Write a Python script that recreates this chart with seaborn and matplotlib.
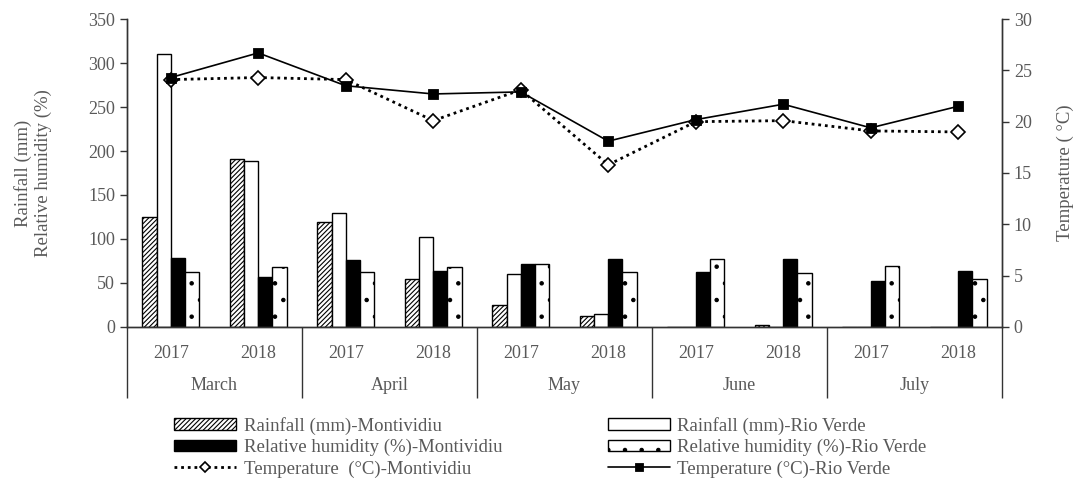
import numpy as np
import pandas as pd
import seaborn as sns
import matplotlib.pyplot as plt
from matplotlib import rcParams
import matplotlib.transforms as mtransforms

months = ['March', 'April', 'May', 'June', 'July']
years = ['2017', '2018']

rain_mont = [125, 191, 119, 55, 25, 13, 0, 2, 0, 0]
rain_rv = [310, 189, 129, 102, 60, 15, 0, 0, 0, 0]
rh_mont = [78, 57, 76, 64, 72, 77, 62, 77, 52, 64]
rh_rv = [62, 68, 62, 68, 72, 62, 77, 61, 69, 54]
temp_mont = [24.1, 24.3, 24.1, 20.1, 23.1, 15.8, 20.0, 20.1, 19.1, 19.0]
temp_rv = [24.3, 26.7, 23.5, 22.7, 22.9, 18.1, 20.2, 21.7, 19.4, 21.5]

bar_names = ['Rainfall (mm)-Montividiu', 'Rainfall (mm)-Rio Verde',
             'Relative humidity (%)-Montividiu', 'Relative humidity (%)-Rio Verde']
temp_names = ['Temperature  (°C)-Montividiu', 'Temperature (°C)-Rio Verde']

groups = [m + ' ' + y for m in months for y in years]
group_years = [y for m in months for y in years]

bars = pd.DataFrame({'group': groups * 4,
                     'series': np.repeat(bar_names, len(groups)),
                     'value': rain_mont + rain_rv + rh_mont + rh_rv})
temps = pd.DataFrame({'group': groups * 2,
                      'series': np.repeat(temp_names, len(groups)),
                      'value': temp_mont + temp_rv})

sns.set_theme(style='white')
rcParams['font.family'] = ['Liberation Serif', 'DejaVu Serif']
rcParams['hatch.linewidth'] = 0.8
grey = '#595959'

fig = plt.figure(figsize=(10.78, 4.88), dpi=100)
ax = fig.add_axes([0.1178, 0.330, 0.8117, 0.631])

sns.barplot(data=bars, x='group', y='value', hue='series', ax=ax,
            palette=['white', 'white', 'black', 'white'], width=0.65,
            edgecolor='black', linewidth=1, legend=False, saturation=1)
hatches = ['///////', '', '', '.']
for cont, h in zip(ax.containers, hatches):
    for p in cont:
        p.set_hatch(h)

ax.set_ylim(0, 350)
ax.set_yticks(np.arange(0, 351, 50))
ax.set_xlim(-0.5, len(groups) - 0.5)
ax.set_xticks(range(len(groups)))
ax.set_xticklabels(group_years)
ax.set_xlabel('')
ax.set_ylabel('Rainfall (mm)\nRelative humidity (%)', color=grey, fontsize=13.5, labelpad=26)
ax.tick_params(axis='x', length=0, pad=13, labelsize=13, labelcolor=grey)
ax.tick_params(axis='y', length=5, width=1, color='#333333', labelsize=13,
               labelcolor=grey, left=True, direction='out')

ax2 = ax.twinx()
sns.pointplot(data=temps, x='group', y='value', hue='series', ax=ax2,
              palette=['black', 'black'], markers=['D', 's'], linestyles=[':', '-'],
              errorbar=None, legend=False)
mont, rv = ax2.lines[0], ax2.lines[1]
mont.set_markerfacecolor('white')
mont.set_markersize(7)
mont.set_markeredgewidth(1.2)
mont.set_linewidth(2)
mont.set_linestyle((0, (1, 1.4)))
rv.set_markersize(5.5)
rv.set_linewidth(1.2)
ax2.set_ylim(0, 30)
ax2.set_yticks(np.arange(0, 31, 5))
ax2.set_xlim(-0.5, len(groups) - 0.5)
ax2.set_ylabel('Temperature ( °C)', color=grey, fontsize=13.5, labelpad=18)
ax2.set_xlabel('')
ax2.tick_params(axis='y', length=5, width=1, color='#333333', labelsize=13,
                labelcolor=grey, right=True, direction='out')

for a in (ax, ax2):
    for side in ['left', 'right', 'bottom']:
        a.spines[side].set_color('#333333')
        a.spines[side].set_linewidth(1)
    a.spines['top'].set_visible(False)

# month labels and separators under the year labels
trans = mtransforms.blended_transform_factory(ax.transData, ax.transAxes)
for i, m in enumerate(months):
    ax.text(2 * i + 0.5, -0.19, m, transform=trans, ha='center', va='center',
            fontsize=13, color=grey)
ax.vlines(np.arange(len(months) + 1) * 2 - 0.5, -0.23, 0, transform=trans,
          color='#333333', lw=1, clip_on=False)

leg_kw = dict(loc='upper left', frameon=False, fontsize=13.5, handlelength=3.3,
              handleheight=0.55, labelspacing=0.22, handletextpad=0.4,
              labelcolor=grey, borderpad=0, markerscale=0.75)
leg1 = fig.legend([ax.containers[0].patches[0], ax.containers[2].patches[0], mont],
                  [bar_names[0], bar_names[2], temp_names[0]],
                  bbox_to_anchor=(0.153, 0.165), **leg_kw)
leg2 = fig.legend([ax.containers[1].patches[0], ax.containers[3].patches[0], rv],
                  [bar_names[1], bar_names[3], temp_names[1]],
                  bbox_to_anchor=(0.555, 0.165), **leg_kw)

plt.savefig('out.png', dpi=100, facecolor='w')
